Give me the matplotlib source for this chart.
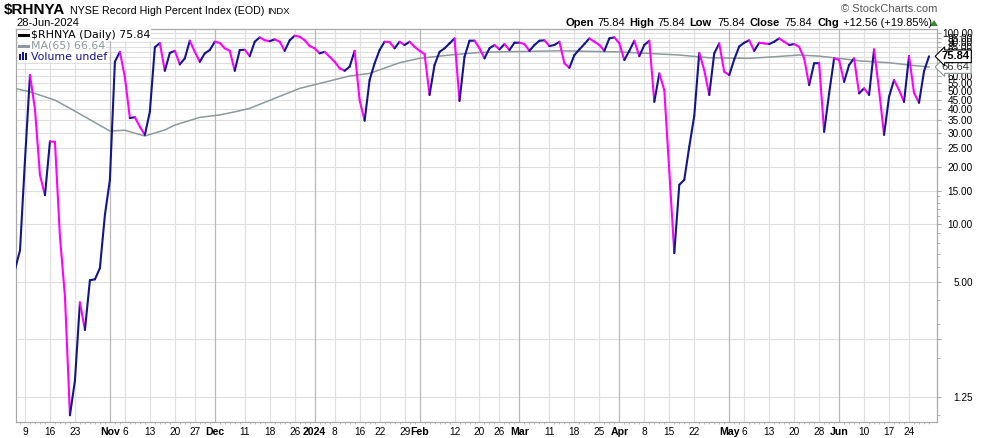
import numpy as np
import pandas as pd
import matplotlib
matplotlib.use("Agg")
import matplotlib.pyplot as plt
from matplotlib.collections import LineCollection
from matplotlib.lines import Line2D
from matplotlib.patches import Rectangle, Polygon

# ---------------- data ----------------
start_date = "2023-10-05"
end_date = "2024-06-28"
holidays = ["2023-11-23", "2023-12-25", "2024-01-01", "2024-01-15",
            "2024-02-19", "2024-03-29", "2024-05-27", "2024-06-19"]

close = [
    5.8, 7.3, 21.7, 60.5, 40.0, 18.1, 14.2, 27.2, 27.0, 8.6,
    4.2, 1.0, 1.52, 3.9, 2.8, 5.1, 5.15, 5.9, 11.2, 17.1,
    71.0, 80.0, 59.0, 36.0, 36.4, 32.4, 29.4, 38.9, 84.5, 89.0,
    63.7, 79.0, 81.0, 68.8, 74.0, 91.5, 80.0, 71.0, 78.6, 81.8,
    90.4, 89.0, 83.5, 81.0, 63.7, 81.8, 82.0, 76.0, 90.4, 95.3,
    92.0, 91.0, 93.0, 90.4, 81.0, 92.0, 97.2, 96.0, 92.0, 85.8,
    83.5, 78.6, 80.0, 75.4, 71.0, 65.6, 63.7, 66.9, 81.0, 44.7,
    34.9, 57.0, 69.7, 81.8, 90.4, 90.0, 83.5, 90.4, 86.9, 90.4,
    85.0, 81.0, 77.9, 47.6, 68.3, 80.0, 83.5, 88.6, 94.1, 44.3,
    75.4, 91.5, 91.6, 83.5, 74.0, 83.5, 86.9, 82.4, 87.9, 81.8,
    89.3, 89.4, 87.9, 81.0, 86.9, 91.5, 92.0, 85.8, 86.9, 90.4,
    69.7, 66.0, 77.0, 82.4, 87.9, 94.1, 90.4, 86.9, 81.0, 94.1,
    95.3, 88.6, 72.5, 81.0, 91.5, 76.0, 86.9, 91.5, 43.8, 61.7,
    50.5, 19.0, 7.07, 16.1, 17.1, 25.5, 37.0, 79.0, 64.2, 47.6,
    78.6, 88.6, 62.9, 60.5, 73.0, 85.4, 89.3, 92.0, 81.0, 89.3,
    88.6, 87.9, 90.4, 94.1, 90.4, 86.9, 87.9, 85.0, 74.0, 53.6,
    69.7, 69.8, 30.5, 48.5, 74.0, 72.5, 55.7, 68.3, 74.0, 48.5,
    51.5, 47.6, 82.4, 50.5, 29.4, 46.6, 57.0, 50.5, 43.8, 76.0,
    48.8, 43.3, 63.28, 75.84,
]

# MA(65) read at selected trading-day offsets (offset 0 = 9 Oct 2023)
ma_offset = [-2, 1, 6, 9, 17, 20, 24, 28, 30, 35, 39, 42, 45, 55, 65, 69, 75,
             79, 85, 91, 95, 107, 119, 131, 137, 145, 150, 155, 159, 163, 167,
             173, 177, 181]
ma_vals = [51.5, 49.4, 44.7, 40.5, 30.8, 31.1, 29.0, 31.2, 33.1, 36.3, 37.4,
           38.8, 40.5, 51.5, 59.8, 61.7, 70.2, 74.0, 77.0, 79.5, 80.0, 81.0,
           80.0, 77.0, 74.5, 74.0, 75.4, 77.0, 76.0, 74.0, 71.8, 70.2, 68.3,
           66.64]

tick_dates = ["2023-10-09", "2023-10-16", "2023-10-23", "2023-11-01", "2023-11-06",
              "2023-11-13", "2023-11-20", "2023-11-27", "2023-12-01", "2023-12-11",
              "2023-12-18", "2023-12-26", "2024-01-02", "2024-01-08", "2024-01-16",
              "2024-01-22", "2024-01-29", "2024-02-01", "2024-02-12", "2024-02-20",
              "2024-02-26", "2024-03-01", "2024-03-11", "2024-03-18", "2024-03-25",
              "2024-04-01", "2024-04-08", "2024-04-15", "2024-04-22", "2024-05-01",
              "2024-05-06", "2024-05-13", "2024-05-20", "2024-05-28", "2024-06-03",
              "2024-06-10", "2024-06-17", "2024-06-24"]
tick_labels = ["9", "16", "23", "Nov", "6", "13", "20", "27", "Dec", "11", "18", "26",
               "2024", "8", "16", "22", "29", "Feb", "12", "20", "26", "Mar", "11",
               "18", "25", "Apr", "8", "15", "22", "May", "6", "13", "20", "28", "Jun",
               "10", "17", "24"]
month_labels = {"Nov", "Dec", "2024", "Feb", "Mar", "Apr", "May", "Jun"}

ytick_vals = [1.25, 2.5, 5, 10, 15, 20, 25, 30, 35, 40, 45, 50, 55, 60, 65, 70,
              75, 80, 85, 90, 95, 100]
ytick_hidden = {2.5, 65, 70, 75}

last_close = 75.84
last_ma = 66.64

# ---------------- figure ----------------
plt.rcParams["font.family"] = ["Liberation Sans", "DejaVu Sans"]
W, H = 990, 438
fig = plt.figure(figsize=(W / 100, H / 100), dpi=100)
fig.patch.set_facecolor("white")

L, R, T, B = 16, 937, 29, 422
ax = fig.add_axes([L / W, (H - B) / H, (R - L) / W, (B - T) / H])

dates = pd.bdate_range(start_date, end_date, freq="C", holidays=holidays)
xs = np.arange(len(dates)) - 2
ys = np.array(close, dtype=float)

ax.set_yscale("log")
ax.set_ylim(0.922, 105.4)
ax.set_xlim(-1.8, 182.6)

# grid
for v in ytick_vals:
    ax.axhline(v, color="#dedede", lw=0.8, zorder=0)
tick_pos = [dates.get_loc(pd.Timestamp(d)) - 2 for d in tick_dates]
for p, lab in zip(tick_pos, tick_labels):
    ax.axvline(p, color="#b8b8b8" if lab in month_labels else "#e0e0e0",
               lw=0.9, zorder=0)

# MA line
ax.plot(ma_offset, ma_vals, color="#8c999e", lw=1.1, zorder=2)

# close line, coloured by direction
pts = np.column_stack([xs, ys])
segs = np.stack([pts[:-1], pts[1:]], axis=1)
cols = ["#15158a" if ys[i + 1] >= ys[i] else "#ff00ff" for i in range(len(ys) - 1)]
lc = LineCollection(segs, colors=cols, linewidths=1.5, zorder=3,
                    capstyle="round", joinstyle="round")
ax.add_collection(lc)

# axes styling
for s in ax.spines.values():
    s.set_color("#a8a8a8")
    s.set_linewidth(0.9)

ax.yaxis.tick_right()
ax.set_yticks(ytick_vals)
ax.set_yticklabels(["" if v in ytick_hidden else f"{v:.2f}" for v in ytick_vals])
ax.yaxis.set_minor_locator(matplotlib.ticker.FixedLocator([1, 2, 3, 4, 6, 7, 8, 9, 11, 12, 13, 14]))
ax.yaxis.set_minor_formatter(matplotlib.ticker.NullFormatter())
ax.tick_params(axis="y", which="major", length=3, color="#a8a8a8", pad=22.8,
               labelsize=7.2, labelcolor="black")
ax.tick_params(axis="y", which="minor", length=2, color="#a8a8a8")
for t in ax.get_yticklabels():
    t.set_horizontalalignment("right")

ax.set_xticks(tick_pos)
ax.set_xticklabels(tick_labels)
ax.xaxis.set_minor_locator(matplotlib.ticker.FixedLocator(xs))
ax.tick_params(axis="x", which="major", length=0, pad=3.5, labelsize=7.3, labelcolor="black")
ax.tick_params(axis="x", which="minor", length=1.5, color="#b0b0b0")
for t in ax.get_xticklabels():
    if t.get_text() in month_labels:
        t.set_fontweight("bold")
        t.set_fontsize(7.6)

# value boxes on the right axis
ax.annotate(f"{last_close:.2f}", xy=(1.0, last_close), xycoords=("axes fraction", "data"),
            xytext=(3.5, 0), textcoords="offset points", va="center", ha="left",
            fontsize=8, fontweight="bold", color="black", annotation_clip=False,
            bbox=dict(boxstyle="larrow,pad=0.12", fc="white", ec="black", lw=0.8), zorder=10)
ax.annotate(f"{last_ma:.2f}", xy=(1.0, last_ma), xycoords=("axes fraction", "data"),
            xytext=(3.5, 0), textcoords="offset points", va="center", ha="left",
            fontsize=8, color="#333333", annotation_clip=False,
            bbox=dict(boxstyle="larrow,pad=0.12", fc="white", ec="#8c999e", lw=0.8), zorder=9)

# legend inside the plot
def fy(py):
    return 1 - py / H

def fx(px):
    return px / W

leg_font = dict(family="DejaVu Sans", fontsize=7.9, va="center", ha="left")
fig.text(fx(31), fy(35), "$RHNYA (Daily) 75.84", color="black",
         bbox=dict(fc="white", ec="none", pad=0.5), **leg_font)
fig.text(fx(31), fy(45.7), "MA(65) 66.64", color="#8c999e",
         bbox=dict(fc="white", ec="none", pad=0.5), **leg_font)
fig.text(fx(31), fy(56.5), "Volume undef", color="#15158a",
         bbox=dict(fc="white", ec="none", pad=0.5), **leg_font)
fig.add_artist(Rectangle((fx(18), fy(62)), fx(13), 32 / H, transform=fig.transFigure,
                         fc="white", ec="none", zorder=5))
fig.add_artist(Line2D([fx(19), fx(28)], [fy(35), fy(35)], color="black", lw=2.2,
                      transform=fig.transFigure, zorder=6))
fig.add_artist(Line2D([fx(19), fx(28)], [fy(45.7), fy(45.7)], color="#8c999e", lw=2.2,
                      transform=fig.transFigure, zorder=6))
for bx, bh in [(19, 6), (22, 8), (25, 7)]:
    fig.add_artist(Rectangle((fx(bx), fy(60)), fx(2.2), bh / H, transform=fig.transFigure,
                             fc="#15158a", ec="none", zorder=6))

# header
fig.text(fx(4), fy(10), "$RHNYA", fontsize=11, fontweight="bold", va="center", ha="left")
fig.text(fx(70), fy(10.5), "NYSE Record High Percent Index (EOD)", fontsize=7.7,
         va="center", ha="left")
fig.text(fx(267), fy(11), "INDX", fontsize=6.8, va="center", ha="left")
fig.text(fx(16), fy(23), "28-Jun-2024", fontsize=8, va="center", ha="left")
fig.text(fx(937), fy(9), "\u00a9 StockCharts.com", fontsize=8, color="#555555",
         va="center", ha="right")

hdr = [(565, "Open", True), (597, "75.84", False), (629, "High", True),
       (657, "75.84", False), (689, "Low", True), (717, "75.84", False),
       (750, "Close", True), (784, "75.84", False), (817, "Chg", True),
       (843, "+12.56 (+19.85%)", False)]
for px, txt, bold in hdr:
    fig.text(fx(px), fy(22.5), txt, fontsize=8, fontweight="bold" if bold else "normal",
             va="center", ha="left")
fig.add_artist(Polygon([[fx(930), fy(26)], [fx(938), fy(26)], [fx(934), fy(20)]],
                       closed=True, transform=fig.transFigure, fc="#2e8b3a", ec="none"))

fig.savefig("out.png", dpi=100, facecolor="white")
